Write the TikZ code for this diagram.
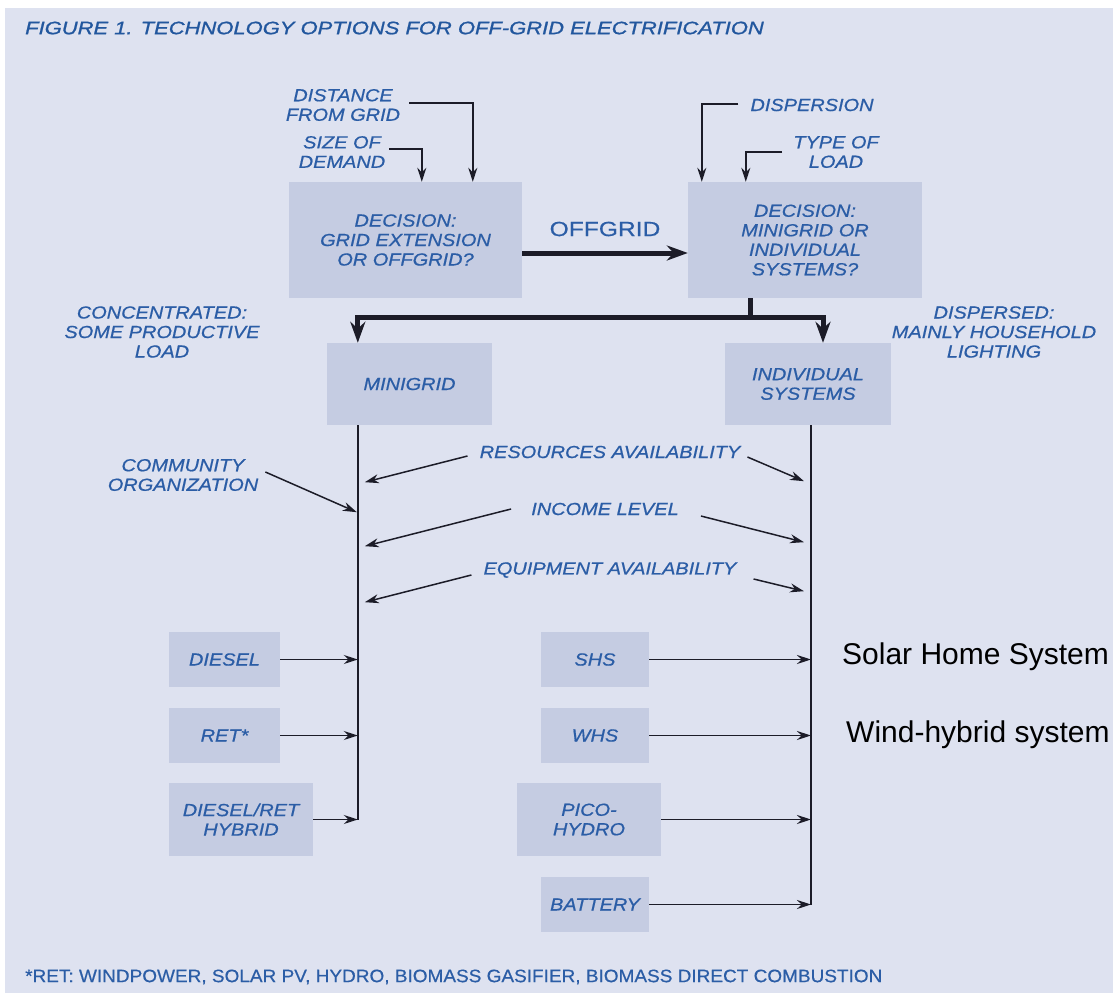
\documentclass[tikz,border=0pt]{standalone}
\usepackage{fontspec}
\usetikzlibrary{arrows.meta,calc}
\newfontfamily\fut[FakeStretch=1.14,FakeBold=0.7]{Liberation Sans}
\newfontfamily\titf[FakeStretch=1.22,FakeBold=1.1]{Liberation Sans}
\newfontfamily\offf[FakeStretch=1.2,FakeBold=0.6]{Liberation Sans}
\newfontfamily\footf[FakeStretch=1.055,FakeBold=0.5]{Liberation Sans}
\newfontfamily\arialf{Liberation Sans}
\definecolor{bg}{HTML}{DEE2F0}
\definecolor{boxfill}{HTML}{C5CCE2}
\definecolor{txtblue}{HTML}{2B5DA6}
\definecolor{titleblue}{HTML}{22579E}
\definecolor{ln}{HTML}{1C1C28}
\begin{document}
\begin{tikzpicture}[x=1pt,y=-1pt,
  lbl/.style={font=\fut\itshape\fontsize{17.5}{19.5}\selectfont, text=txtblue, align=center, inner sep=0pt},
  bx/.style={fill=boxfill, inner sep=0pt, font=\fut\itshape\fontsize{17.5}{19.5}\selectfont, text=txtblue, align=center},
  thinline/.style={draw=ln, line width=1.5pt},
  thinarr/.style={draw=ln, line width=1.5pt, -{Stealth[length=14pt,width=9pt]}},
  thickl/.style={draw=ln, line width=5pt},
  thickarr/.style={draw=ln, line width=5pt, line join=miter, -{Stealth[length=21pt,width=15pt]}}]
\fill[white] (0,0) rectangle (1113,993);
\fill[bg] (5,8) rectangle (1113,993);
\useasboundingbox (0,0) rectangle (1113,993);
\clip (0,0) rectangle (1113,993);

% title and footnote
\node[anchor=west, inner sep=0pt, text=titleblue, font=\titf\itshape\fontsize{18}{19}\selectfont] (title) at (25,28) {FIGURE 1. TECHNOLOGY OPTIONS FOR OFF-GRID ELECTRIFICATION};
\node[anchor=west, inner sep=0pt, text=txtblue, font=\footf\fontsize{18}{20}\selectfont] (foot) at (25,977) {*RET: WINDPOWER, SOLAR PV, HYDRO, BIOMASS GASIFIER, BIOMASS DIRECT COMBUSTION};

% boxes
\node[bx, minimum width=233pt, minimum height=116pt] (dec1) at (405.5,240) {DECISION:\\GRID EXTENSION\\OR OFFGRID?};
\node[bx, minimum width=234pt, minimum height=116pt] (dec2) at (805,240) {DECISION:\\MINIGRID OR\\INDIVIDUAL\\SYSTEMS?};
\node[bx, minimum width=165pt, minimum height=82pt] (mg) at (409.5,384) {MINIGRID};
\node[bx, minimum width=166pt, minimum height=82pt] (ind) at (808,384) {INDIVIDUAL\\SYSTEMS};
\node[bx, minimum width=111pt, minimum height=55pt] (diesel) at (224.5,659.5) {DIESEL};
\node[bx, minimum width=111pt, minimum height=55pt] (ret) at (224.5,735.5) {RET*};
\node[bx, minimum width=144pt, minimum height=73pt] (hyb) at (241,819.5) {DIESEL/RET\\HYBRID};
\node[bx, minimum width=108pt, minimum height=55pt] (shs) at (595,659.5) {SHS};
\node[bx, minimum width=108pt, minimum height=55pt] (whs) at (595,735.5) {WHS};
\node[bx, minimum width=144pt, minimum height=73pt] (pico) at (589,819.5) {PICO-\\HYDRO};
\node[bx, minimum width=108pt, minimum height=55pt] (bat) at (595,904.5) {BATTERY};

% labels
\node[lbl] (dist) at (343,105) {DISTANCE\\FROM GRID};
\node[lbl] (size) at (342,152) {SIZE OF\\DEMAND};
\node[lbl] (disp) at (812,105) {DISPERSION};
\node[lbl] (type) at (836,152) {TYPE OF\\LOAD};
\node[inner sep=0pt, text=txtblue, font=\offf\fontsize{20.5}{22}\selectfont] (off) at (605,229) {OFFGRID};
\node[lbl] (conc) at (162,332) {CONCENTRATED:\\SOME PRODUCTIVE\\LOAD};
\node[lbl] (dispd) at (994,332) {DISPERSED:\\MAINLY HOUSEHOLD\\LIGHTING};
\node[lbl] (comm) at (183,475) {COMMUNITY\\ORGANIZATION};
\node[lbl] (res) at (610,452) {RESOURCES AVAILABILITY};
\node[lbl] (inc) at (605,509) {INCOME LEVEL};
\node[lbl] (equ) at (610,570) {EQUIPMENT AVAILABILITY};
\node[anchor=west, inner sep=0pt, font=\arialf\fontsize{30}{32}\selectfont] (solar) at (842,657) {Solar Home System};
\node[anchor=west, inner sep=0pt, font=\arialf\fontsize{30}{32}\selectfont] (wind) at (846,735) {Wind-hybrid system};

% coordinates
\coordinate (tip1) at ($(dec1.north west)+(184,0)$);
\coordinate (tip2) at ($(dec1.north west)+(133,0)$);
\coordinate (tip3) at ($(dec2.north west)+(14,0)$);
\coordinate (tip4) at ($(dec2.north west)+(58,0)$);
\coordinate (lvtop) at ($(mg.south west)+(31,0)$);
\coordinate (rvtop) at ($(ind.south)+(3,0)$);
\coordinate (br) at ($(dec2.south west)+(63,19)$);
\coordinate (rbx) at ($(ind.north)+(15,0)$);

% top inputs
\draw[thinarr] ($(dist.east)+(9,-2)$) -| (tip1);
\draw[thinarr] ($(size.east)+(4,-3)$) -| (tip2);
\draw[thinarr] ($(disp.west)+(-12,-1)$) -| (tip3);
\draw[thinarr] ($(type.west)+(-11,0)$) -| (tip4);

% thick flow
\draw[thickarr] ($(dec1.east)+(0,13)$) -- ($(dec2.west)+(0,13)$);
\draw[thickl] (br |- dec2.south) -- (br);
\draw[thickarr] (br) -- (br -| lvtop) -- (lvtop |- mg.north);
\draw[thickarr] (br) -- (br -| rbx) -- (rbx);

% verticals
\draw[thinline] (lvtop) -- (lvtop |- hyb.east);
\draw[thinline] (rvtop) -- (rvtop |- bat.east);

% side factors
\draw[thinarr] ($(comm.east)+(7,-3)$) -- ($(lvtop)+(-1,87)$);
\draw[thinarr] ($(res.west)+(-12,4)$) -- ($(lvtop)+(7,57)$);
\draw[thinarr] ($(res.east)+(7,5)$) -- ($(rvtop)+(-7,56)$);
\draw[thinarr] ($(inc.west)+(-20,0)$) -- ($(lvtop)+(7,121)$);
\draw[thinarr] ($(inc.east)+(22,7)$) -- ($(rvtop)+(-7,117)$);
\draw[thinarr] ($(equ.west)+(-12,5)$) -- ($(lvtop)+(7,177)$);
\draw[thinarr] ($(equ.east)+(17,9)$) -- ($(rvtop)+(-7,166)$);

% options
\draw[thinarr] (diesel.east) -- (diesel.east -| lvtop);
\draw[thinarr] (ret.east) -- (ret.east -| lvtop);
\draw[thinarr] (hyb.east) -- (hyb.east -| lvtop);
\draw[thinarr] (shs.east) -- (shs.east -| rvtop);
\draw[thinarr] (whs.east) -- (whs.east -| rvtop);
\draw[thinarr] (pico.east) -- (pico.east -| rvtop);
\draw[thinarr] (bat.east) -- (bat.east -| rvtop);
\end{tikzpicture}
\end{document}
